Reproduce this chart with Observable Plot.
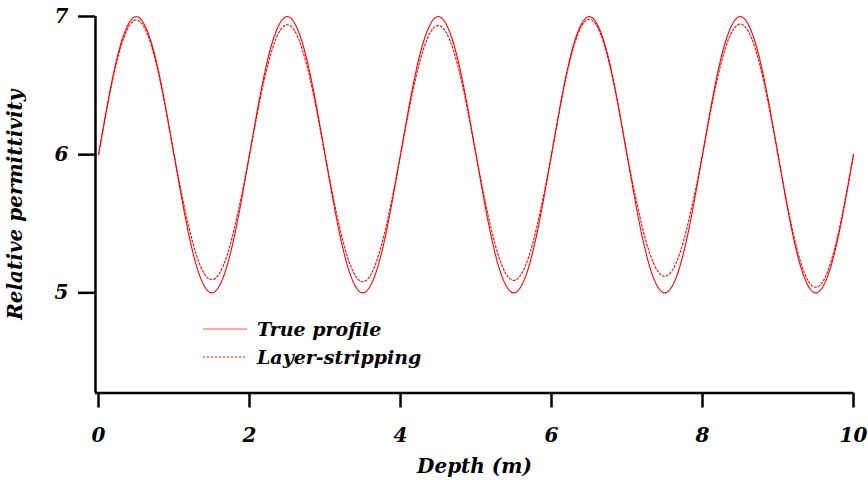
<!DOCTYPE html>
<html>
<head>
<meta charset="utf-8">
<script src="https://cdn.jsdelivr.net/npm/d3@7"></script>
<script src="https://cdn.jsdelivr.net/npm/@observablehq/plot@0.6"></script>
<style>
  html, body { margin: 0; padding: 0; background: #fff; }
  #wrap { position: relative; width: 868px; height: 480px; }
  #legend { position: absolute; left: 203px; top: 315px; font-family: "DejaVu Serif", serif; font-style: italic; font-weight: bold; font-size: 19px; color: #000; }
  #legend .row { display: flex; align-items: center; height: 28px; }
  #legend svg { width: 44px; height: 10px; margin-right: 10px; }
</style>
</head>
<body>
<div id="wrap"></div>
<script>
// Depth samples (m)
const depth = [
  0.0,0.1,0.2,0.3,0.4,0.5,0.6,0.7,0.8,0.9,
  1.0,1.1,1.2,1.3,1.4,1.5,1.6,1.7,1.8,1.9,
  2.0,2.1,2.2,2.3,2.4,2.5,2.6,2.7,2.8,2.9,
  3.0,3.1,3.2,3.3,3.4,3.5,3.6,3.7,3.8,3.9,
  4.0,4.1,4.2,4.3,4.4,4.5,4.6,4.7,4.8,4.9,
  5.0,5.1,5.2,5.3,5.4,5.5,5.6,5.7,5.8,5.9,
  6.0,6.1,6.2,6.3,6.4,6.5,6.6,6.7,6.8,6.9,
  7.0,7.1,7.2,7.3,7.4,7.5,7.6,7.7,7.8,7.9,
  8.0,8.1,8.2,8.3,8.4,8.5,8.6,8.7,8.8,8.9,
  9.0,9.1,9.2,9.3,9.4,9.5,9.6,9.7,9.8,9.9,
  10.0
];
// True profile
const trueProfile = [
  6.00,6.31,6.59,6.81,6.95,7.00,6.95,6.81,6.59,6.31,
  6.00,5.69,5.41,5.19,5.05,5.00,5.05,5.19,5.41,5.69,
  6.00,6.31,6.59,6.81,6.95,7.00,6.95,6.81,6.59,6.31,
  6.00,5.69,5.41,5.19,5.05,5.00,5.05,5.19,5.41,5.69,
  6.00,6.31,6.59,6.81,6.95,7.00,6.95,6.81,6.59,6.31,
  6.00,5.69,5.41,5.19,5.05,5.00,5.05,5.19,5.41,5.69,
  6.00,6.31,6.59,6.81,6.95,7.00,6.95,6.81,6.59,6.31,
  6.00,5.69,5.41,5.19,5.05,5.00,5.05,5.19,5.41,5.69,
  6.00,6.31,6.59,6.81,6.95,7.00,6.95,6.81,6.59,6.31,
  6.00,5.69,5.41,5.19,5.05,5.00,5.05,5.19,5.41,5.69,
  6.00
];
// Layer-stripping reconstruction
const layerStripping = [
  6.000,6.301,6.573,6.789,6.927,6.975,6.927,6.789,6.573,6.301,
  6.000,5.720,5.468,5.268,5.139,5.095,5.139,5.268,5.468,5.720,
  6.000,6.290,6.553,6.760,6.894,6.940,6.894,6.760,6.553,6.290,
  6.000,5.716,5.459,5.256,5.125,5.080,5.125,5.256,5.459,5.716,
  6.000,6.289,6.550,6.756,6.889,6.935,6.889,6.756,6.550,6.289,
  6.000,5.719,5.465,5.264,5.135,5.090,5.135,5.264,5.465,5.719,
  6.000,6.303,6.576,6.793,6.932,6.980,6.932,6.793,6.576,6.303,
  6.000,5.728,5.483,5.288,5.163,5.120,5.163,5.288,5.483,5.728,
  6.000,6.292,6.556,6.765,6.899,6.945,6.899,6.765,6.556,6.292,
  6.000,5.703,5.436,5.223,5.087,5.040,5.087,5.223,5.436,5.703,
  6.000
];
const xTicks = [0, 2, 4, 6, 8, 10];
const yTicks = [5, 6, 7];
const xDomain = [-0.04, 10];
const yDomain = [4.275, 7];
const seriesNames = ["True profile", "Layer-stripping"];

const trueData = depth.map((d, i) => ({depth: d, value: trueProfile[i]}));
const lsData = depth.map((d, i) => ({depth: d, value: layerStripping[i]}));

const chart = Plot.plot({
  width: 868,
  height: 480,
  marginLeft: 95,
  marginRight: 15,
  marginTop: 16,
  marginBottom: 87.5,
  style: {fontFamily: '"DejaVu Serif", serif', fontStyle: "italic", fontWeight: "bold", fontSize: "20px", color: "#000", background: "#fff"},
  x: {domain: xDomain},
  y: {domain: yDomain},
  marks: [
    Plot.axisX({ticks: xTicks, tickSize: 15, tickPadding: 20, strokeWidth: 2.5, fontSize: 20, tickFormat: d3.format("d"),
      label: "Depth (m)", labelAnchor: "center", labelOffset: 80, labelArrow: false}),
    Plot.axisY({ticks: yTicks, tickSize: 17, tickPadding: 10, strokeWidth: 2.5, fontSize: 20, tickFormat: d3.format("d"),
      label: "Relative permittivity", labelAnchor: "center", labelOffset: 88, labelArrow: false}),
    Plot.ruleX([xDomain[0]], {stroke: "#000", strokeWidth: 2.5}),
    Plot.ruleY([yDomain[0]], {stroke: "#000", strokeWidth: 2.5}),
    Plot.line(trueData, {x: "depth", y: "value", stroke: "#ff0000", strokeWidth: 1.1, curve: "natural"}),
    Plot.line(lsData, {x: "depth", y: "value", stroke: "#ff0000", strokeWidth: 1.1, strokeDasharray: "2,2", curve: "natural"})
  ]
});
const wrap = document.getElementById("wrap");
wrap.appendChild(chart);

const legend = document.createElement("div");
legend.id = "legend";
legend.innerHTML = `
  <div class="row"><svg viewBox="0 0 44 10"><line x1="0" y1="5" x2="44" y2="5" stroke="#ff5555" stroke-width="1.2"/></svg><span>${seriesNames[0]}</span></div>
  <div class="row"><svg viewBox="0 0 44 10"><line x1="0" y1="5" x2="44" y2="5" stroke="#ff0000" stroke-width="1.1" stroke-dasharray="2,2"/></svg><span>${seriesNames[1]}</span></div>`;
wrap.appendChild(legend);
</script>
</body>
</html>
